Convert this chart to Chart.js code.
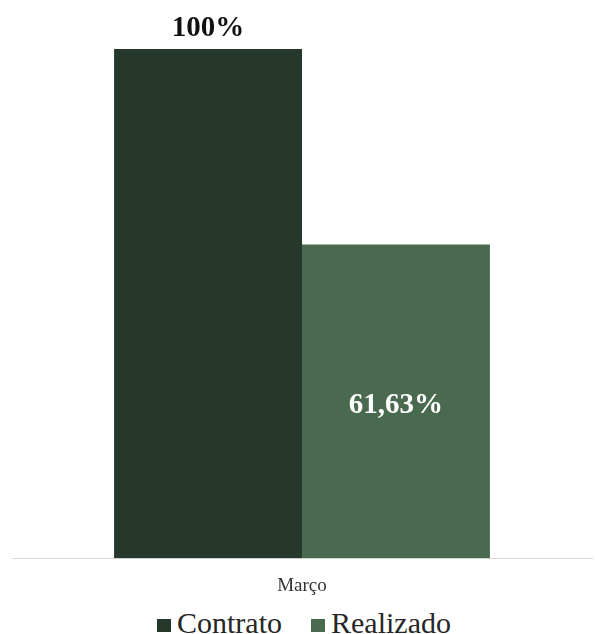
<!DOCTYPE html>
<html>
<head>
<meta charset="utf-8">
<script src="https://cdn.jsdelivr.net/npm/chart.js@4/dist/chart.umd.min.js"></script>
<style>
  html, body { margin: 0; padding: 0; background: #fff; }
  #wrap { position: relative; width: 595px; height: 634px; }
  #plot { position: absolute; left: 0; top: 0; width: 595px; height: 605px; }
  #legend { position: absolute; left: 157px; top: 608px; display: flex; align-items: center;
            font: 30px/30px "Liberation Serif", serif; color: #262626; white-space: nowrap; }
  #legend .item { display: flex; align-items: center; margin-right: 29px; }
  #legend .box { width: 14px; height: 13px; margin-right: 6px; margin-top: 5px; }
</style>
</head>
<body>
<div id="wrap">
  <div id="plot"><canvas id="chart"></canvas></div>
  <div id="legend"></div>
</div>
<script>
const categories = ['Março'];
const contrato = [100];
const realizado = [61.63];
const seriesNames = ['Contrato', 'Realizado'];
const seriesColors = ['#26372b', '#4a6a50'];

const fmt = v => v.toLocaleString('pt-BR', { maximumFractionDigits: 2 }) + '%';

// value labels: first series above the bar, second inside
const valueLabels = {
  id: 'valueLabels',
  afterDatasetsDraw(chart) {
    const ctx = chart.ctx;
    ctx.save();
    ctx.font = 'bold 29px "Liberation Serif"';
    ctx.textAlign = 'center';
    ctx.textBaseline = 'middle';
    chart.data.datasets.forEach((ds, i) => {
      chart.getDatasetMeta(i).data.forEach((bar, j) => {
        const v = ds.data[j];
        if (i === 0) {
          ctx.fillStyle = '#111';
          ctx.fillText(fmt(v), bar.x, bar.y - 20);
        } else {
          ctx.fillStyle = '#fff';
          ctx.fillText(fmt(v), bar.x, (bar.y + bar.base) / 2 + 4);
        }
      });
    });
    ctx.restore();
  }
};

const chart = new Chart(document.getElementById('chart'), {
  type: 'bar',
  data: {
    labels: categories,
    datasets: [
      { label: seriesNames[0], data: contrato, backgroundColor: seriesColors[0] },
      { label: seriesNames[1], data: realizado, backgroundColor: seriesColors[1] }
    ]
  },
  options: {
    responsive: true,
    maintainAspectRatio: false,
    animation: false,
    layout: { padding: { top: 49, left: 12, right: 3, bottom: 0 } },
    datasets: { bar: { barPercentage: 1, categoryPercentage: 0.648 } },
    scales: {
      x: {
        grid: { display: false },
        border: { display: true, color: '#d9d9d9', width: 1 },
        ticks: { color: '#333', padding: 8, font: { family: 'Liberation Serif', size: 19 } }
      },
      y: { display: false, min: 0, max: 100 }
    },
    plugins: {
      legend: { display: false },
      tooltip: { enabled: false }
    }
  },
  plugins: [valueLabels]
});

// html legend built from the chart's datasets
const legendEl = document.getElementById('legend');
chart.data.datasets.forEach(ds => {
  const item = document.createElement('span');
  item.className = 'item';
  const box = document.createElement('span');
  box.className = 'box';
  box.style.background = ds.backgroundColor;
  const txt = document.createElement('span');
  txt.textContent = ds.label;
  item.appendChild(box);
  item.appendChild(txt);
  legendEl.appendChild(item);
});
</script>
</body>
</html>
